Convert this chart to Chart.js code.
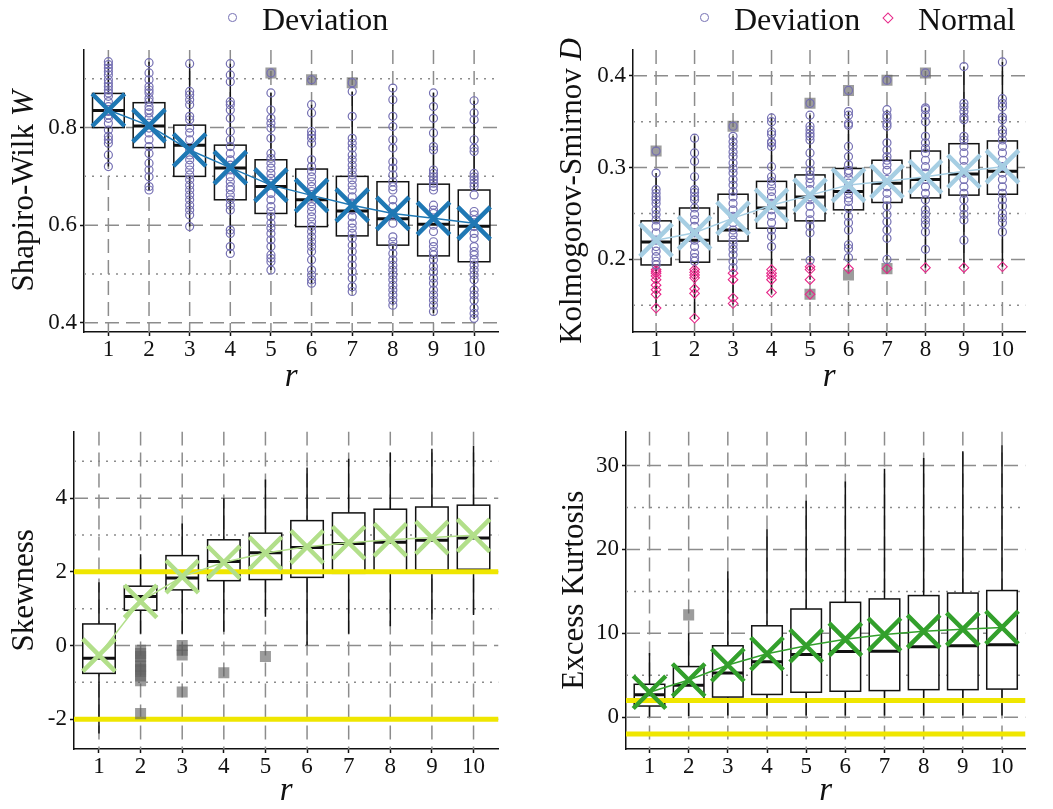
<!DOCTYPE html>
<html>
<head>
<meta charset="utf-8">
<script src="https://cdn.jsdelivr.net/npm/chart.js@4.4.0/dist/chart.umd.min.js"></script>
<style>
  body { margin: 0; background: #fff; width: 1053px; height: 809px; position: relative; overflow: hidden; font-family: "Liberation Serif", serif; }
  canvas { position: absolute; }
  .lg { position: absolute; font-size: 32px; line-height: 32px; color: #111; white-space: nowrap; }
  .dot { position: absolute; width: 6.5px; height: 6.5px; border: 1.3px solid #7570b3; border-radius: 50%; }
  .dia { position: absolute; width: 6px; height: 6px; border: 1.3px solid #e7298a; transform: rotate(45deg); }
</style>
</head>
<body>
<canvas id="cSW" width="526" height="404" style="left:0;top:0"></canvas>
<canvas id="cKS" width="527" height="404" style="left:526px;top:0"></canvas>
<canvas id="cSK" width="526" height="405" style="left:0;top:404px"></canvas>
<canvas id="cKU" width="527" height="405" style="left:526px;top:404px"></canvas>

<!-- legends -->
<div class="dot" style="left:228px;top:13px"></div>
<div class="lg" style="left:262px;top:3px">Deviation</div>
<div class="dot" style="left:700px;top:13px"></div>
<div class="lg" style="left:734px;top:3px">Deviation</div>
<div class="dia" style="left:884px;top:14px"></div>
<div class="lg" style="left:918px;top:3px">Normal</div>

<script>
// categories (r)
const xCats = [1, 2, 3, 4, 5, 6, 7, 8, 9, 10];

// Shapiro-Wilk W
const swLo   = [0.720, 0.672, 0.597, 0.542, 0.508, 0.481, 0.464, 0.436, 0.420, 0.407];
const swQ1   = [0.800, 0.759, 0.700, 0.652, 0.624, 0.597, 0.578, 0.559, 0.537, 0.525];
const swMed  = [0.835, 0.803, 0.764, 0.717, 0.679, 0.652, 0.629, 0.613, 0.602, 0.598];
const swQ3   = [0.870, 0.851, 0.805, 0.764, 0.734, 0.715, 0.700, 0.689, 0.684, 0.672];
const swHi   = [0.935, 0.935, 0.931, 0.931, 0.871, 0.847, 0.874, 0.881, 0.871, 0.855];
const swMean = [0.836, 0.804, 0.754, 0.718, 0.682, 0.661, 0.641, 0.624, 0.614, 0.604];
const swOut  = [[], [], [], [], [0.912], [0.898], [0.892], [], [], []];
const swDev = [
  [0.935,0.929,0.922,0.915,0.908,0.898,0.891,0.884,0.877,0.871,0.864,0.853,0.843,0.833,0.826,0.819,0.809,0.795,0.782,0.775,0.768,0.744,0.720],
  [0.933,0.912,0.898,0.884,0.877,0.871,0.860,0.853,0.843,0.836,0.830,0.819,0.809,0.799,0.789,0.775,0.761,0.747,0.727,0.713,0.699,0.679,0.672],
  [0.931,0.874,0.867,0.857,0.847,0.823,0.816,0.799,0.789,0.775,0.754,0.744,0.734,0.723,0.713,0.703,0.693,0.682,0.672,0.662,0.652,0.641,0.631,0.621,0.597],
  [0.931,0.908,0.894,0.853,0.847,0.836,0.819,0.792,0.775,0.761,0.747,0.734,0.723,0.713,0.699,0.689,0.679,0.672,0.662,0.652,0.641,0.631,0.590,0.583,0.556,0.542],
  [0.912,0.871,0.836,0.819,0.809,0.799,0.778,0.747,0.737,0.727,0.717,0.706,0.696,0.686,0.665,0.652,0.638,0.628,0.617,0.604,0.594,0.583,0.570,0.556,0.539,0.532,0.525,0.508],
  [0.898,0.847,0.830,0.792,0.785,0.778,0.768,0.734,0.720,0.710,0.699,0.689,0.679,0.669,0.658,0.648,0.638,0.628,0.617,0.607,0.597,0.587,0.576,0.566,0.556,0.546,0.529,0.508,0.498,0.488,0.481],
  [0.892,0.874,0.823,0.778,0.768,0.758,0.744,0.734,0.723,0.713,0.703,0.693,0.682,0.672,0.658,0.645,0.631,0.617,0.604,0.594,0.583,0.573,0.559,0.546,0.532,0.518,0.505,0.491,0.474,0.464],
  [0.881,0.857,0.823,0.802,0.775,0.758,0.730,0.717,0.703,0.689,0.679,0.672,0.652,0.638,0.624,0.604,0.576,0.566,0.556,0.542,0.529,0.518,0.508,0.498,0.488,0.477,0.467,0.457,0.446,0.436],
  [0.871,0.843,0.819,0.789,0.761,0.754,0.713,0.706,0.699,0.693,0.686,0.679,0.672,0.641,0.631,0.624,0.600,0.587,0.566,0.556,0.546,0.539,0.529,0.515,0.505,0.491,0.481,0.467,0.457,0.446,0.436,0.423],
  [0.855,0.830,0.816,0.775,0.758,0.751,0.706,0.699,0.693,0.686,0.679,0.662,0.628,0.621,0.611,0.597,0.583,0.573,0.556,0.546,0.539,0.529,0.518,0.508,0.498,0.488,0.467,0.457,0.446,0.430,0.419,0.409]
];
const swTicks = [0.4, 0.6, 0.8];
const swTickLabels = ['0.4', '0.6', '0.8'];
const swMinor = [0.5, 0.7, 0.9];

// Kolmogorov-Smirnov D
const ksLo   = [0.147, 0.135, 0.151, 0.163, 0.178, 0.190, 0.200, 0.191, 0.191, 0.192];
const ksQ1   = [0.194, 0.197, 0.220, 0.234, 0.242, 0.254, 0.262, 0.267, 0.270, 0.271];
const ksMed  = [0.219, 0.221, 0.232, 0.256, 0.268, 0.274, 0.283, 0.287, 0.293, 0.296];
const ksQ3   = [0.242, 0.256, 0.271, 0.285, 0.292, 0.299, 0.308, 0.318, 0.326, 0.329];
const ksHi   = [0.294, 0.334, 0.334, 0.354, 0.357, 0.361, 0.363, 0.365, 0.410, 0.415];
const ksMean = [0.221, 0.229, 0.245, 0.259, 0.270, 0.281, 0.285, 0.290, 0.296, 0.301];
const ksOut  = [[0.318], [], [0.345], [], [0.370, 0.162], [0.384, 0.183], [0.395, 0.190], [0.403], [], []];
const ksDev = [
  [0.318,0.294,0.276,0.272,0.268,0.265,0.261,0.254,0.249,0.243,0.236,0.229,0.221,0.214,0.209,0.203,0.198,0.194],
  [0.332,0.316,0.307,0.290,0.276,0.273,0.268,0.265,0.256,0.249,0.243,0.236,0.229,0.221,0.214,0.207,0.202,0.198],
  [0.345,0.334,0.328,0.323,0.317,0.312,0.305,0.299,0.294,0.287,0.281,0.274,0.268,0.261,0.254,0.247,0.240,0.232,0.227,0.221,0.216,0.211,0.205,0.198,0.191],
  [0.354,0.350,0.339,0.336,0.328,0.327,0.323,0.301,0.290,0.285,0.280,0.274,0.268,0.261,0.254,0.247,0.240,0.232,0.225,0.214],
  [0.370,0.357,0.345,0.341,0.337,0.334,0.330,0.316,0.305,0.297,0.292,0.288,0.283,0.276,0.268,0.265,0.258,0.250,0.243,0.236,0.229,0.199],
  [0.384,0.361,0.357,0.348,0.346,0.323,0.312,0.303,0.297,0.294,0.288,0.283,0.278,0.272,0.267,0.263,0.256,0.247,0.240,0.232,0.216,0.212,0.202],
  [0.395,0.363,0.357,0.354,0.348,0.345,0.327,0.319,0.312,0.308,0.303,0.297,0.287,0.279,0.272,0.265,0.258,0.249,0.241,0.232,0.223,0.200],
  [0.403,0.365,0.363,0.357,0.350,0.334,0.327,0.321,0.316,0.308,0.301,0.294,0.287,0.279,0.272,0.265,0.254,0.249,0.243,0.238,0.230,0.211],
  [0.410,0.370,0.366,0.361,0.355,0.352,0.334,0.330,0.323,0.316,0.308,0.301,0.294,0.287,0.279,0.272,0.265,0.256,0.249,0.243,0.221],
  [0.415,0.375,0.370,0.366,0.355,0.352,0.341,0.337,0.330,0.323,0.316,0.308,0.301,0.294,0.287,0.279,0.272,0.265,0.258,0.250,0.245,0.240,0.230]
];
const ksNorm = [
  [0.189,0.187,0.185,0.182,0.178,0.172,0.167,0.162,0.147],
  [0.189,0.186,0.183,0.180,0.168,0.163,0.136],
  [0.185,0.178,0.158,0.152],
  [0.189,0.185,0.182,0.178,0.164],
  [0.192,0.189,0.178,0.162],
  [0.190], [0.190], [0.191], [0.191], [0.192]
];
const ksTicks = [0.2, 0.3, 0.4];
const ksTickLabels = ['0.2', '0.3', '0.4'];
const ksMinor = [0.15, 0.25, 0.35];

// Skewness
const skLo   = [-2.39, 0.32, 0.32, 0.375, 0.78, 0.0, 0.32, 0.52, 0.70, 0.83];
const skQ1   = [-0.757, 0.958, 1.51, 1.76, 1.79, 1.85, 1.96, 2.01, 2.05, 2.07];
const skMed  = [-0.347, 1.33, 1.83, 2.28, 2.52, 2.66, 2.77, 2.80, 2.86, 2.92];
const skQ3   = [0.585, 1.61, 2.44, 2.87, 3.05, 3.39, 3.60, 3.70, 3.76, 3.81];
const skHi   = [1.72, 2.48, 3.31, 4.0, 4.51, 4.83, 5.07, 5.24, 5.34, 5.42];
const skMean = [-0.26, 1.20, 1.87, 2.26, 2.51, 2.68, 2.79, 2.87, 2.93, 2.99];
const skOut  = [[], [-0.13, -0.22, -0.30, -0.42, -0.56, -0.65, -0.70, -0.83, -0.96, -1.85], [0, -0.13, -0.26, -1.26], [-0.74], [-0.30], [], [], [], [], []];
const skTicks = [-2, 0, 2, 4];
const skTickLabels = ['-2', '0', '2', '4'];
const skMinor = [-1, 1, 3, 5];
const skRef = [-2, 2];

// Excess kurtosis
const kuLo   = [0.05, 0.15, 0.2, 0.2, 0.2, 0.2, 0.2, 0.2, 0.2, 0.2];
const kuQ1   = [1.34, 2.10, 2.41, 2.72, 2.98, 3.10, 3.18, 3.29, 3.29, 3.36];
const kuMed  = [2.67, 3.82, 5.28, 6.61, 7.49, 7.83, 7.87, 8.41, 8.52, 8.64];
const kuQ3   = [3.93, 6.04, 8.52, 10.9, 12.9, 13.7, 14.1, 14.5, 14.8, 15.1];
const kuHi   = [7.65, 10.0, 17.4, 22.4, 25.8, 28.1, 29.6, 30.9, 31.7, 32.4];
const kuMean = [2.98, 4.44, 6.23, 7.57, 8.52, 9.29, 9.86, 10.24, 10.5, 10.7];
const kuOut  = [[], [12.2], [], [], [], [], [], [], [], []];
const kuTicks = [0, 10, 20, 30];
const kuTickLabels = ['0', '10', '20', '30'];
const kuMinor = [5, 15, 25];
const kuRef = [-2, 2];

const FONT = '"Liberation Serif", serif';
const TEXT = '#111';
const GRID = '#8c8c8c';
const PURPLE = '#7570b3';
const PINK = '#e7298a';
const YELLOW = '#efe600';
const BOX_W = 0.78;
const TICK_SIZE = 23;
const TITLE_SIZE = 31;

Chart.defaults.font.family = FONT;
Chart.defaults.color = TEXT;

// grid, boxes and reference lines under the points
function drawBackLayer(chart, p) {
  const { ctx, chartArea: a, scales: { x, y } } = chart;
  ctx.save();
  ctx.beginPath();
  ctx.rect(a.left, a.top, a.right - a.left, a.bottom - a.top);
  ctx.clip();
  const hline = v => {
    const py = y.getPixelForValue(v);
    ctx.beginPath(); ctx.moveTo(a.left, py); ctx.lineTo(a.right, py); ctx.stroke();
  };
  ctx.strokeStyle = GRID;
  ctx.lineWidth = 1.5;
  ctx.setLineDash([2, 6]);
  p.minor.forEach(hline);
  ctx.setLineDash([14, 7]);
  p.ticks.forEach(hline);
  xCats.forEach(c => {
    const px = x.getPixelForValue(c);
    ctx.beginPath(); ctx.moveTo(px, a.top); ctx.lineTo(px, a.bottom); ctx.stroke();
  });
  ctx.setLineDash([]);

  const half = x.getPixelForValue(1 + BOX_W / 2) - x.getPixelForValue(1);
  xCats.forEach((c, i) => {
    const px = x.getPixelForValue(c);
    const yLo = y.getPixelForValue(p.lo[i]);
    const yQ1 = y.getPixelForValue(p.q1[i]);
    const yMed = y.getPixelForValue(p.med[i]);
    const yQ3 = y.getPixelForValue(p.q3[i]);
    const yHi = y.getPixelForValue(p.hi[i]);
    ctx.strokeStyle = TEXT;
    ctx.lineWidth = 1.5;
    ctx.beginPath();
    ctx.moveTo(px, yHi); ctx.lineTo(px, yQ3);
    ctx.moveTo(px, yQ1); ctx.lineTo(px, yLo);
    ctx.stroke();
    ctx.fillStyle = '#fff';
    ctx.fillRect(px - half, yQ3, 2 * half, yQ1 - yQ3);
    ctx.strokeRect(px - half, yQ3, 2 * half, yQ1 - yQ3);
    ctx.lineWidth = 3;
    ctx.beginPath(); ctx.moveTo(px - half, yMed); ctx.lineTo(px + half, yMed); ctx.stroke();
  });

  if (p.ref) {
    ctx.strokeStyle = YELLOW;
    ctx.lineWidth = 5;
    p.ref.forEach(hline);
  }
  ctx.restore();
}

// y title with an italic part
function drawYTitle(chart, p) {
  const { ctx, chartArea: a } = chart;
  ctx.save();
  ctx.translate(p.titleX, (a.top + a.bottom) / 2);
  ctx.rotate(-Math.PI / 2);
  ctx.fillStyle = TEXT;
  ctx.textBaseline = 'alphabetic';
  ctx.textAlign = 'left';
  const fonts = p.yTitle.map(part => (part[1] ? 'italic ' : '') + TITLE_SIZE + 'px ' + FONT);
  let total = 0;
  p.yTitle.forEach((part, k) => { ctx.font = fonts[k]; total += ctx.measureText(part[0]).width; });
  let cx = -total / 2;
  p.yTitle.forEach((part, k) => {
    ctx.font = fonts[k];
    ctx.fillText(part[0], cx, 0);
    cx += ctx.measureText(part[0]).width;
  });
  ctx.restore();
}

function toPoints(lists) {
  return lists.flatMap((vals, i) => vals.map(v => ({ x: xCats[i], y: v })));
}

function makePanel(id, p) {
  const ctx = document.getElementById(id).getContext('2d');
  const datasets = [{
    type: 'line',
    label: 'mean',
    data: p.mean.map((m, i) => ({ x: xCats[i], y: m })),
    borderColor: p.meanColor,
    borderWidth: 1.5,
    tension: 0,
    fill: false,
    pointStyle: 'crossRot',
    pointRadius: 23,
    pointHoverRadius: 23,
    pointBorderWidth: 4.5,
    pointBorderColor: p.meanColor,
    pointBackgroundColor: p.meanColor,
    order: 0
  }];
  if (p.dev) {
    datasets.push({
      label: 'Deviation',
      data: toPoints(p.dev),
      pointStyle: 'circle',
      pointRadius: 4,
      pointBorderWidth: 1.2,
      borderColor: PURPLE,
      backgroundColor: 'transparent',
      order: 1
    });
  }
  if (p.norm) {
    datasets.push({
      label: 'Normal',
      data: toPoints(p.norm),
      pointStyle: 'rectRot',
      pointRadius: 4.8,
      pointBorderWidth: 1.1,
      borderColor: PINK,
      backgroundColor: 'transparent',
      order: 1
    });
  }
  datasets.push({
    label: 'outlier',
    data: toPoints(p.out),
    pointStyle: 'rect',
    pointRadius: 7.8,
    pointBorderWidth: 0,
    borderColor: 'transparent',
    backgroundColor: 'rgba(95,95,95,0.62)',
    order: 2
  });

  new Chart(ctx, {
    type: 'scatter',
    data: { datasets: datasets },
    plugins: [{
      id: 'layers_' + id,
      beforeDatasetsDraw(chart) { drawBackLayer(chart, p); },
      afterDraw(chart) { drawYTitle(chart, p); }
    }],
    options: {
      responsive: false,
      animation: false,
      events: [],
      layout: { padding: { top: p.padTop, right: p.padRight, left: 0, bottom: 0 } },
      plugins: { legend: { display: false }, tooltip: { enabled: false } },
      scales: {
        x: {
          type: 'linear',
          min: 0.4,
          max: 10.6,
          afterBuildTicks: s => { s.ticks = xCats.map(v => ({ value: v })); },
          afterFit: s => { s.height = p.xAxisH; s.paddingLeft = 0; s.paddingRight = 0; },
          ticks: {
            font: { size: TICK_SIZE },
            color: TEXT,
            padding: 0,
            maxRotation: 0,
            autoSkip: false,
            callback: (v, i) => String(xCats[i])
          },
          grid: { drawOnChartArea: false, tickLength: 4, tickColor: TEXT, tickWidth: 1.5 },
          border: { display: true, color: TEXT, width: 1.5 },
          title: {
            display: true,
            text: 'r',
            color: TEXT,
            font: { size: 33, style: 'italic', lineHeight: 1 },
            padding: { top: 0, bottom: p.rPad }
          }
        },
        y: {
          type: 'linear',
          min: p.yMin,
          max: p.yMax,
          afterBuildTicks: s => { s.ticks = p.ticks.map(v => ({ value: v })); },
          afterFit: s => { s.width = p.yAxisW; s.paddingTop = 0; s.paddingBottom = 0; },
          ticks: {
            font: { size: TICK_SIZE },
            color: TEXT,
            padding: 3,
            callback: (v, i) => p.tickLabels[i]
          },
          grid: { drawOnChartArea: false, tickLength: 4, tickColor: TEXT, tickWidth: 1.5 },
          border: { display: true, color: TEXT, width: 1.5 }
        }
      }
    }
  });
}

makePanel('cSW', {
  lo: swLo, q1: swQ1, med: swMed, q3: swQ3, hi: swHi, mean: swMean, out: swOut, dev: swDev,
  ticks: swTicks, tickLabels: swTickLabels, minor: swMinor,
  yMin: 0.381, yMax: 0.959, meanColor: '#1f78b4',
  yTitle: [['Shapiro-Wilk ', false], ['W', true]], titleX: 33,
  padTop: 50, padRight: 24, yAxisW: 84, xAxisH: 72, rPad: 10
});
makePanel('cKS', {
  lo: ksLo, q1: ksQ1, med: ksMed, q3: ksQ3, hi: ksHi, mean: ksMean, out: ksOut, dev: ksDev, norm: ksNorm,
  ticks: ksTicks, tickLabels: ksTickLabels, minor: ksMinor,
  yMin: 0.121, yMax: 0.428, meanColor: '#a6cee3',
  yTitle: [['Kolmogorov-Smirnov ', false], ['D', true]], titleX: 55,
  padTop: 50, padRight: 1, yAxisW: 107, xAxisH: 72, rPad: 10
});
makePanel('cSK', {
  lo: skLo, q1: skQ1, med: skMed, q3: skQ3, hi: skHi, mean: skMean, out: skOut, ref: skRef,
  ticks: skTicks, tickLabels: skTickLabels, minor: skMinor,
  yMin: -2.81, yMax: 5.81, meanColor: '#b2df8a',
  yTitle: [['Skewness', false]], titleX: 33,
  padTop: 15, padRight: 23, yAxisW: 74, xAxisH: 60, rPad: 1
});
makePanel('cKU', {
  lo: kuLo, q1: kuQ1, med: kuMed, q3: kuQ3, hi: kuHi, mean: kuMean, out: kuOut, ref: kuRef,
  ticks: kuTicks, tickLabels: kuTickLabels, minor: kuMinor,
  yMin: -3.78, yMax: 34.05, meanColor: '#33a02c',
  yTitle: [['Excess Kurtosis', false]], titleX: 57,
  padTop: 15, padRight: 0, yAxisW: 100, xAxisH: 60, rPad: 1
});
</script>
</body>
</html>
